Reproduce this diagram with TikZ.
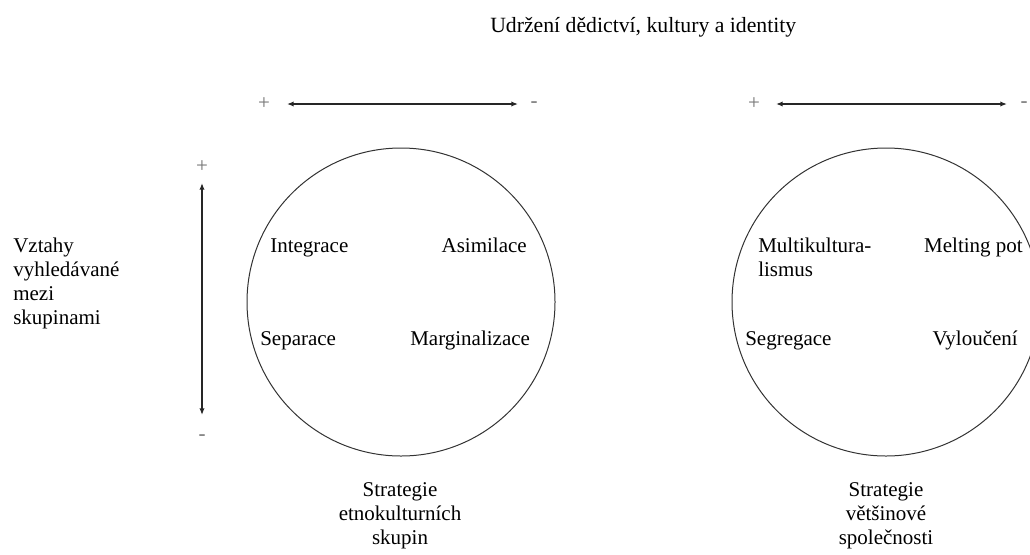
\documentclass[tikz,border=0pt]{standalone}
\usepackage{fontspec}
\setmainfont{Liberation Serif}
\usetikzlibrary{arrows.meta}

\begin{document}
\begin{tikzpicture}[x=0.75pt,y=-0.75pt,
  every node/.style={inner sep=0pt,font=\fontsize{15.75}{18}\selectfont},
  sign/.style={text=SignMark},
  axis/.style={line width=1.3pt,draw=black!85,{Latex[length=5pt,width=4pt]}-{Latex[length=5pt,width=4pt]}},
  ring/.style={line width=0.75pt,draw=black!80}]

\useasboundingbox (0,0) rectangle (1030,554);

%Defining grey color
\colorlet{SignMark}{black!55}

%Title
\node[anchor=base west,font=\fontsize{16.3}{18}\selectfont] (title) at (490,32) {Udržení dědictví, kultury a identity};

%Top axes
\node[sign] (plusA) at (264,104) {+};
\node[sign] (minusA) at (534,105) {-};
\coordinate (startA) at (287,104);
\coordinate (endA) at (518,104);
\draw[axis] (startA) -- (endA);

\node[sign] (plusB) at (754,104) {+};
\node[sign] (minusB) at (1024,105) {-};
\coordinate (startB) at (776,104);
\coordinate (endB) at (1007,104);
\draw[axis] (startB) -- (endB);

%Vertical axis
\node[sign] (plusV) at (202,167) {+};
\node[sign] (minusV) at (202,438) {-};
\coordinate (startV) at (202,183);
\coordinate (endV) at (202,415);
\draw[axis] (startV) -- (endV);

\node[anchor=north west,align=left] (relations) at (13,237.5) {Vztahy\\vyhledávané\\mezi\\skupinami};

%Ethnocultural groups
\coordinate (ethnic) at (401,302);
\draw[ring] (ethnic) circle [radius=154];
\node[anchor=base west] (integ) at (270,252) {Integrace};
\node[anchor=base east] (assim) at (527,252) {Asimilace};
\node[anchor=base west] (separ) at (260,345) {Separace};
\node[anchor=base west] (margin) at (410,345) {Marginalizace};
\node[anchor=north,align=center] (ethlabel) at (400,482.5) {Strategie\\etnokulturních\\skupin};

%Majority society
\coordinate (major) at (886,302);
\draw[ring] (major) circle [radius=154];
\node[anchor=north west,align=left] (multi) at (758,237.5) {Multikultura-\\lismus};
\node[anchor=base east] (melt) at (1023,252) {Melting pot};
\node[anchor=base west] (segreg) at (745,345) {Segregace};
\node[anchor=base east] (exclu) at (1018,345) {Vyloučení};
\node[anchor=north,align=center] (majlabel) at (886,482.5) {Strategie\\většinové\\společnosti};

\end{tikzpicture}
\end{document}
